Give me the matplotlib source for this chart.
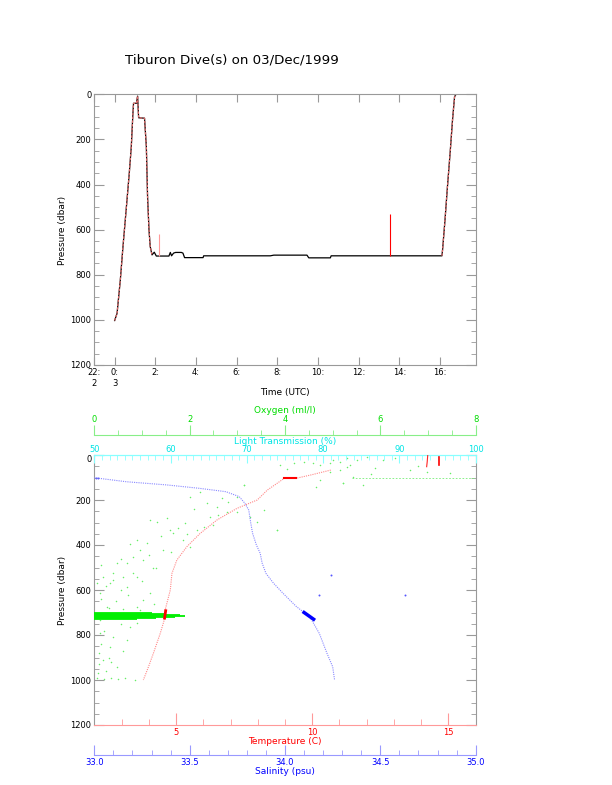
import matplotlib
matplotlib.use("Agg")
import matplotlib.pyplot as plt
from matplotlib.ticker import MultipleLocator, FixedLocator, FormatStrFormatter

plt.rcParams['font.family'] = ['DejaVu Sans']

# ---------------- data: top panel (time in hours after 0:00 03/Dec) ----------
dive_time = [0.00, 0.12, 0.28, 0.41, 0.58, 0.72, 0.82, 0.90, 0.93, 1.07, 1.13,
             1.18, 1.47, 1.56, 1.62, 1.69, 1.75, 1.84, 1.95, 2.05, 2.38, 2.67,
             2.74, 2.80, 2.90, 3.00, 3.28, 3.36, 3.44, 4.35, 4.38, 7.66, 7.83,
             9.46, 9.55, 10.61, 10.65, 16.10, 16.13, 16.25, 16.37, 16.50, 16.62,
             16.72, 16.79]
dive_pres = [1003, 971, 823, 676, 498, 350, 232, 84, 40, 40, 8,
             104, 106, 232, 454, 601, 675, 712, 700, 717, 717, 717,
             701, 716, 704, 701, 701, 704, 724, 724, 716, 716, 713,
             713, 725, 725, 716, 716, 690, 557, 410, 262, 114,
             11, 0]
spike_time = [2.17, 13.55]
spike_top = [620, 530]
spike_bottom = [716, 716]
time_ticks = [-1, 0, 2, 4, 6, 8, 10, 12, 14, 16]
time_labels = ['22:\n2', '0:\n3', '2:', '4:', '6:', '8:', '10:', '12:', '14:', '16:']

# ---------------- data: bottom panel profiles ----------------
temp_pres = [0, 30, 52, 67, 89, 104, 104, 156, 200, 237, 289, 348, 407, 467,
             526, 600, 689, 720, 793, 881, 941, 1000]
temp_val = [14.24, 14.22, 14.20, 10.68, 9.94, 9.39, 8.97, 8.35, 7.98, 7.24, 6.50,
            5.89, 5.40, 5.03, 4.85, 4.79, 4.60, 4.60, 4.42, 4.17, 3.99, 3.80]
temp2_pres = [7, 44]
temp2_val = [14.67, 14.67]
temp_cluster_pres = [692, 725]
temp_cluster_val = [4.62, 4.58]

sal_pres = [101, 119, 133, 148, 163, 185, 215, 245, 300, 348, 400, 437, 480, 526,
            570, 615, 674, 719, 793, 881, 941, 1000]
sal_val = [33.00, 33.17, 33.38, 33.55, 33.69, 33.76, 33.79, 33.81, 33.82, 33.83,
           33.85, 33.87, 33.88, 33.90, 33.94, 33.99, 34.06, 34.13, 34.18, 34.22,
           34.25, 34.26]
sal_cluster_pres = [700, 730]
sal_cluster_val = [34.10, 34.15]
sal_extra_pres = [533, 622, 622, 100, 102]
sal_extra_val = [34.24, 34.18, 34.63, 33.01, 33.02]

oxy_pres = [185, 163, 215, 230, 252, 133, 185, 274, 296, 244, 333, 296, 289, 281,
            333, 326, 378, 422, 452, 467, 481, 504, 526, 541, 541, 422, 378, 407,
            348, 333, 274, 193, 570, 570, 481, 526, 556, 585, 644, 674, 615, 615,
            674, 733, 793, 852, 911, 941, 970, 822, 763,
            44, 37, 37, 44, 37, 30, 15, 44, 22, 67, 74, 111, 141, 7, 2, 22, 59, 67,
            74, 81, 126, 133, 333, 52, 96, 126, 22, 133,
            993, 995, 990, 996, 992, 998,
            210, 240, 265, 300, 320, 360, 390, 430, 460, 500, 540, 580, 620, 650,
            660, 680, 690, 750, 780, 810, 840, 870, 900, 930, 960, 255, 310, 350,
            395, 445, 490, 560, 600, 640, 685, 745, 880, 920, 30, 60, 85, 12, 50]
oxy_val = [2.00, 2.22, 2.36, 2.57, 2.78, 3.13, 2.99, 3.27, 3.41, 3.55, 3.83, 1.31,
           1.17, 1.52, 1.59, 1.76, 0.89, 0.96, 0.82, 1.03, 0.68, 1.24, 0.40, 0.19,
           0.61, 1.45, 1.87, 2.00, 1.66, 2.15, 2.43, 2.67, 0.05, 0.33, 0.47, 0.82,
           0.40, 0.68, 1.03, 0.89, 1.17, 0.12, 0.26, 0.12, 0.12, 0.33, 0.19, 0.47,
           0.08, 0.68, 0.75,
           3.90, 4.18, 4.59, 4.73, 4.94, 5.15, 5.29, 5.36, 5.50, 5.15, 4.94, 4.73,
           4.66, 5.71, 5.92, 6.06, 5.89, 6.62, 6.97, 7.46, 5.22, 5.64, 3.83, 5.29,
           5.43, 5.22, 5.01, 3.13,
           0.06, 0.20, 0.35, 0.50, 0.65, 0.85,
           2.80, 2.10, 2.60, 1.90, 2.30, 1.40, 1.10, 1.60, 0.55, 1.30, 0.90, 0.25,
           0.70, 0.45, 1.25, 0.30, 0.95, 0.55, 0.20, 0.40, 0.15, 0.60, 0.30, 0.10,
           0.25, 3.00, 2.50, 1.95, 0.75, 1.15, 0.15, 1.00, 0.55, 0.15, 0.60, 0.90,
           0.10, 0.35, 4.40, 4.05, 5.80, 6.30, 6.80]
oxy_line_pres = [104, 104]
oxy_line_val = [5.40, 8.00]
oxy_band_pres = [702, 707, 712, 716, 720, 724, 728]
oxy_band_max = [1.2, 1.5, 1.8, 1.9, 1.7, 1.3, 0.9]

# ---------------- figure ----------------
W, H = 612, 785
fig = plt.figure(figsize=(W / 100, H / 100), dpi=100)


def fx(px):
    return px / W


def fy(py):
    return 1 - py / H


GRAY = '#999999'
PX = 0.72  # points per pixel

fig.text(fx(231.5), fy(60), 'Tiburon Dive(s) on 03/Dec/1999', ha='center',
         va='center', fontsize=9.6)

L, R = 94.3, 475.7
# ---------------- top panel ----------------
ax1 = fig.add_axes([fx(L), fy(365), fx(R - L), fy(94.3) - fy(365)])
ax1.plot(dive_time, dive_pres, color='black', lw=0.9)
ax1.plot(dive_time[:18], dive_pres[:18], color='#e06a6a', lw=0.9, ls=(0, (2, 1)))
ax1.plot(dive_time[37:], dive_pres[37:], color='#e06a6a', lw=0.9, ls=(0, (2, 1)))
ax1.vlines(spike_time, spike_top, spike_bottom, colors=['#ff9999', '#ff0000'], lw=0.8)
ax1.set_xlim(-1.0, 17.76)
ax1.set_ylim(1200, 0)
ax1.xaxis.set_major_locator(FixedLocator(time_ticks))
ax1.set_xticklabels(time_labels, fontsize=6, linespacing=1.3, va='top')
ax1.yaxis.set_major_locator(MultipleLocator(200))
ax1.yaxis.set_minor_locator(MultipleLocator(50))
ax1.tick_params(axis='x', which='major', direction='in', length=8 * PX, top=True,
                bottom=True, color=GRAY, labelsize=6, pad=2)
ax1.tick_params(axis='y', which='major', direction='in', length=10 * PX, left=True,
                right=True, color=GRAY, labelsize=6, pad=2)
ax1.tick_params(axis='y', which='minor', direction='in', length=5 * PX, left=True,
                right=True, color=GRAY)
for s in ax1.spines.values():
    s.set_color(GRAY)
    s.set_linewidth(0.8)
fig.text(fx(285), fy(392.7), 'Time (UTC)', ha='center', va='center', fontsize=6.5)
fig.text(fx(62.7), fy(230), 'Pressure (dbar)', ha='center', va='center',
         rotation=90, fontsize=6.5)

# ---------------- bottom panel ----------------
ax2 = fig.add_axes([fx(L), fy(725), fx(R - L), fy(455) - fy(725)])
ax2.set_ylim(1200, 0)
ax2.set_xlim(2, 16)
ax2.yaxis.set_major_locator(MultipleLocator(200))
ax2.yaxis.set_minor_locator(MultipleLocator(50))
ax2.xaxis.set_major_locator(FixedLocator([5, 10, 15]))
ax2.xaxis.set_minor_locator(MultipleLocator(1))
ax2.tick_params(axis='y', which='major', direction='in', length=10 * PX, left=True,
                right=True, color=GRAY, labelsize=6, pad=2)
ax2.tick_params(axis='y', which='minor', direction='in', length=5 * PX, left=True,
                right=True, color=GRAY)
ax2.tick_params(axis='x', which='major', direction='in', length=12 * PX,
                color='#ff9999', labelcolor='#ff0000', labelsize=6, pad=2)
ax2.tick_params(axis='x', which='minor', direction='in', length=6 * PX,
                color='#ff9999')
for k in ['left', 'right']:
    ax2.spines[k].set_color(GRAY)
ax2.spines['bottom'].set_color('#ff9999')
ax2.spines['top'].set_color('#88ffff')
for s in ax2.spines.values():
    s.set_linewidth(0.8)
for lab in ax2.get_yticklabels():
    if lab.get_text() == '0':
        lab.set_va('top')

# oxygen axis (top, offset)
ax_ox = ax2.twiny()
ax_ox.set_xlim(0, 8)
ax_ox.xaxis.set_major_locator(MultipleLocator(2))
ax_ox.xaxis.set_minor_locator(MultipleLocator(0.5))
for k in ['left', 'right', 'bottom']:
    ax_ox.spines[k].set_visible(False)
ax_ox.spines['top'].set_position(('outward', 20 * PX))
ax_ox.spines['top'].set_color('#88ee88')
ax_ox.spines['top'].set_linewidth(0.8)
ax_ox.tick_params(axis='x', which='major', direction='out', length=10 * PX,
                  color='#88ee88', labelcolor='#00dd00', labelsize=6, pad=1)
ax_ox.tick_params(axis='x', which='minor', direction='out', length=5 * PX,
                  color='#88ee88')
ax_ox.hlines(oxy_band_pres, 0, oxy_band_max, colors='#00ee00', lw=1.3)
ax_ox.scatter(oxy_val, oxy_pres, s=1.2, color='#66ee66', linewidths=0)
ax_ox.plot(oxy_line_val, oxy_line_pres, color='#77ee77', lw=0.6, ls=(0, (2, 2)))
ax_ox.set_ylim(1200, 0)

# light transmission axis (top, inward)
ax_lt = ax2.twiny()
ax_lt.set_xlim(50, 100)
ax_lt.xaxis.set_major_locator(MultipleLocator(10))
ax_lt.xaxis.set_minor_locator(MultipleLocator(1))
for k in ['left', 'right', 'bottom']:
    ax_lt.spines[k].set_visible(False)
ax_lt.spines['top'].set_color('#88ffff')
ax_lt.spines['top'].set_linewidth(0.8)
ax_lt.tick_params(axis='x', which='major', direction='in', length=8 * PX,
                  color='#88ffff', labelcolor='#00e5e5', labelsize=6, pad=1)
ax_lt.tick_params(axis='x', which='minor', direction='in', length=5 * PX,
                  color='#88ffff')
ax_lt.set_ylim(1200, 0)

# salinity axis (bottom, offset)
ax_sal = ax2.twiny()
ax_sal.set_xlim(33.0, 35.0)
ax_sal.xaxis.set_ticks_position('bottom')
ax_sal.xaxis.set_label_position('bottom')
ax_sal.xaxis.set_major_locator(MultipleLocator(0.5))
ax_sal.xaxis.set_minor_locator(MultipleLocator(0.1))
ax_sal.xaxis.set_major_formatter(FormatStrFormatter('%.1f'))
for k in ['left', 'right', 'top']:
    ax_sal.spines[k].set_visible(False)
ax_sal.spines['bottom'].set_position(('outward', 30 * PX))
ax_sal.spines['bottom'].set_color('#9999ff')
ax_sal.spines['bottom'].set_linewidth(0.8)
ax_sal.tick_params(axis='x', which='major', direction='in', length=10 * PX,
                   color='#9999ff', labelcolor='#0000ff', labelsize=6, pad=2)
ax_sal.tick_params(axis='x', which='minor', direction='in', length=5 * PX,
                   color='#9999ff')
ax_sal.plot(sal_val, sal_pres, color='#8888ff', lw=0.8, ls=(0, (1, 1)))
ax_sal.plot(sal_cluster_val, sal_cluster_pres, color='#0000ff', lw=2.5)
ax_sal.scatter(sal_extra_val, sal_extra_pres, s=2, color='#5555ff', linewidths=0)
ax_sal.set_ylim(1200, 0)

# temperature on main axes
ax_t = ax2.twiny()
ax_t.set_xlim(2, 16)
ax_t.axis('off')
ax_t.set_ylim(1200, 0)
ax_t.plot(temp_val[3:], temp_pres[3:], color='#ff8888', lw=0.8, ls=(0, (1, 1)))
ax_t.plot(temp_val[:3], temp_pres[:3], color='#ff2222', lw=0.8)
ax_t.plot(temp2_val, temp2_pres, color='#ff0000', lw=1.2)
ax_t.plot(temp_val[5:7], temp_pres[5:7], color='#ff0000', lw=1.5)
ax_t.plot(temp_cluster_val, temp_cluster_pres, color='#ff0000', lw=2.0)

fig.text(fx(285), fy(410.7), 'Oxygen (ml/l)', ha='center', va='center',
         fontsize=6.5, color='#00dd00')
fig.text(fx(285), fy(441), 'Light Transmission (%)', ha='center', va='center',
         fontsize=6.5, color='#00e5e5')
fig.text(fx(285), fy(742), 'Temperature (C)', ha='center', va='center',
         fontsize=6.5, color='#ff0000')
fig.text(fx(285), fy(771), 'Salinity (psu)', ha='center', va='center',
         fontsize=6.5, color='#0000ff')
fig.text(fx(62.7), fy(590), 'Pressure (dbar)', ha='center', va='center',
         rotation=90, fontsize=6.5)

fig.savefig('out.png', dpi=100)
